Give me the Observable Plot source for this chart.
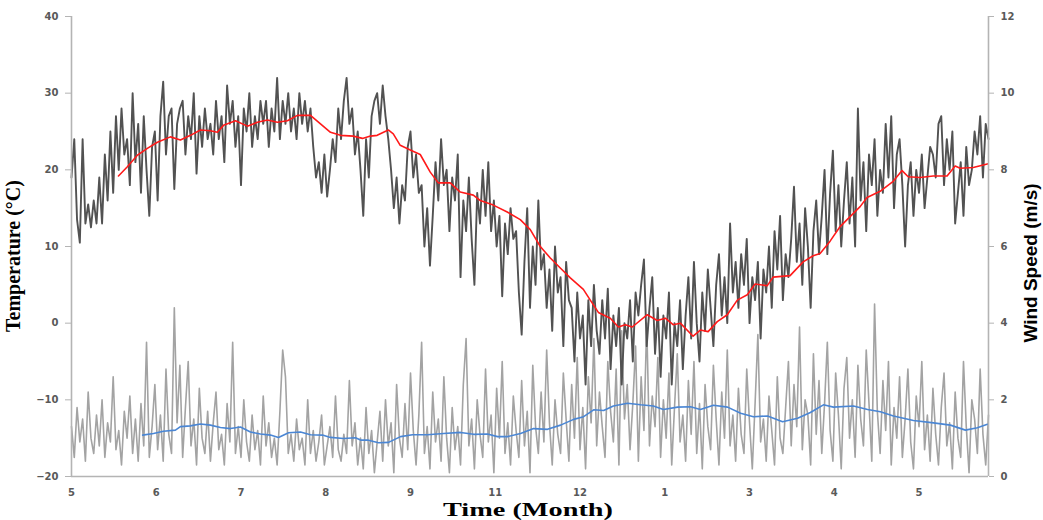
<!DOCTYPE html>
<html>
<head>
<meta charset="utf-8">
<script src="https://cdn.jsdelivr.net/npm/d3@7"></script>
<script src="https://cdn.jsdelivr.net/npm/@observablehq/plot@0.6"></script>
<style>
  body { margin: 0; background: #fff; }
  #chart { width: 1043px; height: 520px; }
</style>
</head>
<body>
<div id="chart"></div>
<script>
// Month labels along the time axis (one tick per ~30.5 days)
const monthLabels = ["5", "6", "7", "8", "9", "11", "12", "1", "3", "4", "5"];
const daysPerTick = 30.5;
const lastDay = 330;

// Daily air temperature (°C)
const dailyTemp = [
  19, 24, 13.5, 10.5, 24, 13, 15.5, 12.5, 16, 13,
  19, 13, 22, 16, 25, 17, 27, 20, 28, 22,
  24, 18, 30, 21, 26, 17, 27, 20, 14, 23,
  25, 16, 27, 31.5, 22, 27, 28, 17.5, 26, 28,
  29, 22, 27, 24, 30, 19.5, 27, 23, 28, 24,
  26, 22, 29, 24, 27, 21, 31, 26, 29, 23,
  27, 18, 28, 25, 30, 23, 27, 24, 29, 26,
  29, 23, 28, 25, 32, 24, 29, 26, 30, 25,
  28, 24, 30, 26, 29, 25, 28, 23, 19, 21,
  17, 22, 16.5, 20, 24, 21, 28, 24, 29, 32,
  26, 28, 22, 25, 20, 14, 24, 19, 27, 29,
  30, 26, 31, 27, 24, 20, 15, 19, 13, 18,
  16, 23, 25, 19, 22, 17, 18, 10, 15, 7.5,
  14, 21, 16, 24, 18, 20, 12, 19, 16, 22,
  6, 16, 12, 19, 11, 5, 17, 13, 20, 14,
  21, 12, 16, 10, 14, 3.5, 13, 9, 15, 11,
  12, 4, -1.5, 8, 15, 2, 10, 5, 16, 7,
  9, 2, 7, -1, 10, 4, 6, -3, 8, 3,
  2, -5, 4, -2, 1, -8, 3, -3, 5, -1,
  -4, 3, -2, 4.5, -6, 1, -3, 2, -8, 0,
  -2, 3, -5, 4, 1, 5, 8.3, -3, 2, 6,
  -4, 2, -7, 1, -2, 4, -8, 0, -3, 3,
  -6, 1, 6, -2, 8, 0, -5, 4, -1, 7,
  2, -3, 5, 9, 1, 6, 0, 13, 4, 8,
  2, 9, 5, 11, 0, 6, 3, 8, -2, 7,
  4, 10, 2, 12, 7, 14, 3, 9, 6, 11,
  17.8, 8, 13, 5, 15, 10, 2, 12, 16, 9,
  14, 20, 9, 17, 22.5, 12, 18, 10, 16, 21,
  13, 19, 10, 28, 16, 21, 12, 22, 18, 24,
  14, 20, 17, 26, 19, 27, 15, 22, 24, 18,
  10, 18, 21, 14, 20, 17, 22, 15, 19, 23,
  22, 19, 26, 27, 18, 24, 20, 25, 13, 17,
  21, 14, 23, 18, 20, 25, 22, 27, 19, 26,
  24
];

// Daily wind speed (m/s)
const dailyWind = [
  1.3, 0.5, 1.8, 0.9, 1.5, 0.4, 2.2, 1.0, 0.6, 1.6,
  0.8, 2.0, 0.5, 1.4, 0.9, 2.6, 0.7, 1.2, 0.3, 1.7,
  1.0, 2.1, 0.6, 1.5, 0.4, 1.9, 0.8, 3.5, 0.5, 1.3,
  2.4, 0.7, 1.6, 0.4, 2.8, 1.1, 0.6, 4.4, 1.4, 2.9,
  0.5, 1.8, 3.0, 0.8, 1.5, 0.3, 2.3, 1.0, 0.6, 1.7,
  0.4, 1.4, 2.2, 0.7, 1.1, 0.3, 1.9, 0.9, 3.5, 0.6,
  1.3, 0.5, 2.0, 0.9, 0.4, 1.6, 0.7, 1.2, 0.3, 2.1,
  0.8, 1.4, 0.5, 1.0, 0.3, 1.7, 3.3, 2.6, 0.6, 1.1,
  0.4, 1.5, 0.7, 1.0, 0.3, 2.0, 0.6, 1.2, 0.4, 0.9,
  1.6, 0.3, 0.8, 1.3, 0.5, 2.1, 0.7, 0.4, 1.1, 0.6,
  2.5, 0.8, 1.4, 0.3, 1.0, 0.2, 1.8, 0.6, 1.2, 0.1,
  0.9, 1.7, 0.4, 2.0, 0.8, 1.4, 0.1, 2.4, 1.0, 0.5,
  1.9, 0.7, 2.7, 1.2, 0.3, 1.6, 3.5, 0.6, 1.3, 0.2,
  2.2, 0.9, 1.5, 0.4, 2.6, 1.0, 0.1, 1.8, 0.7, 1.3,
  0.3, 2.4, 3.6, 0.8, 1.5, 0.2, 2.0, 1.1, 0.5, 2.8,
  0.9, 1.6, 0.1, 2.3, 1.0, 3.0, 0.6, 1.4, 0.3, 2.1,
  1.2, 0.5, 2.5, 0.8, 1.7, 0.1, 2.9, 1.3, 0.6, 2.2,
  0.9, 3.3, 1.4, 0.3, 2.0, 1.1, 0.6, 2.7, 1.5, 0.4,
  2.4, 1.0, 3.1, 0.7, 1.8, 0.2, 2.6, 1.4, 3.6, 0.8,
  2.2, 1.3, 0.5, 3.0, 1.7, 0.9, 2.8, 0.3, 3.8, 1.5,
  2.4, 0.7, 1.9, 3.4, 0.4, 2.6, 1.2, 4.0, 0.8, 2.1,
  1.3, 3.1, 0.5, 2.0, 1.0, 2.7, 0.3, 1.8, 3.2, 0.9,
  1.6, 0.4, 2.5, 1.1, 3.0, 0.6, 1.9, 0.2, 2.4, 1.3,
  0.7, 2.9, 1.5, 0.3, 2.2, 1.0, 3.3, 0.8, 1.6, 0.4,
  2.3, 1.1, 0.6, 2.8, 1.4, 0.2, 1.9, 3.7, 0.9, 1.5,
  0.4, 2.1, 1.2, 0.3, 2.6, 1.0, 0.6, 1.8, 3.0, 0.8,
  2.4, 1.3, 3.9, 0.7, 2.0, 1.6, 0.3, 3.2, 1.1, 2.5,
  0.6, 1.9, 3.5, 1.2, 0.4, 2.7, 1.6, 0.2, 2.3, 3.1,
  1.0, 2.0, 0.5, 2.9, 1.5, 0.8, 3.3, 1.9, 0.4, 4.5,
  1.7, 0.6, 2.5, 1.2, 3.0, 0.3, 1.8, 1.0, 2.6, 0.5,
  1.5, 2.8, 0.9, 0.2, 2.1, 1.3, 3.0, 0.7, 1.6, 0.4,
  2.3, 1.1, 0.3, 1.8, 2.7, 0.8, 1.4, 0.2, 2.2, 1.0,
  0.5, 3.0, 1.3, 0.1, 2.0, 1.5, 0.6, 2.8, 1.1, 0.3,
  1.6
];

// Running mean of temperature (day, °C)
const tempAvgDay = [
  16.9, 20.1, 23.7, 27.3, 30.9, 35.6, 39.2, 42.8, 46.4, 50,
  52.5, 54.7, 59, 63.3, 66.9, 70.5, 74.1, 77.7, 81.3, 86,
  89.6, 93.2, 96.8, 101.4, 104.7, 107.6, 110, 114, 115.8, 118.3,
  121.9, 125.5, 129.1, 132, 136.3, 139.9, 144.6, 147.1, 151.8, 156.8,
  161.5, 165.1, 168.7, 172.3, 175.9, 179.5, 184.2, 186.7, 189.6, 193.9,
  196.8, 199.3, 201.8, 207.2, 210.8, 213.7, 216.5, 219.1, 223.7, 226.3,
  229.1, 232.4, 236, 239.6, 243.2, 246, 250.4, 252.5, 258.6, 263.3,
  266.9, 269.4, 273, 276.6, 280.2, 283.8, 286.3, 291, 295.7, 298.9,
  301.1, 305.4, 310.1, 315.1, 318, 319.8, 324.5, 329.9
];
const tempAvg = [
  19.2, 20.4, 21.9, 22.8, 23.6, 24.3, 23.9, 24.5, 25.2, 25.1,
  24.9, 25.8, 26.4, 25.7, 26.2, 26.5, 26.2, 26.4, 27.1, 27.1,
  26, 24.9, 24.5, 24.4, 24.1, 24.4, 24.5, 25.2, 24.7, 23.2,
  22.6, 22, 19.7, 18.3, 18.3, 17.1, 16.7, 16, 15.4, 14.5,
  13.5, 12.2, 10, 8.5, 7.2, 5.9, 4.4, 3, 1.4, 0.65,
  -0.5, -0.2, -0.5, 1.1, 0.35, 0.65, -0.2, 0, -1.7, -0.9,
  -1.1, 0.2, 1.1, 3, 3.7, 5.1, 4.9, 6, 6.2, 8,
  8.8, 9.1, 10.7, 12.6, 13.9, 15.2, 16.4, 17.2, 18.5, 19.9,
  19.1, 19, 19.2, 19.2, 20.5, 20.2, 20.3, 20.8
];

// Running mean of wind speed (day, m/s)
const windAvgDay = [
  25.6, 29.5, 33.1, 37.4, 39.2, 42.8, 46.4, 50, 53.6, 57.2,
  60.8, 64.4, 68, 71.6, 74.5, 78.1, 82.4, 86, 90.3, 93.2,
  97.9, 102.2, 104, 106.5, 110.5, 114.1, 118.4, 122.7, 128.1, 133.9,
  140, 144.7, 149.7, 153.3, 156.9, 161.6, 166.3, 171.3, 176, 180.7,
  184.3, 187.9, 191.5, 195, 200.1, 204.8, 209.4, 213, 218.1, 222.8,
  226.3, 231, 236.1, 240.8, 245.4, 250.5, 255.9, 261.3, 265.9, 270.6,
  274.2, 281.4, 286.5, 291.1, 295.8, 303, 310.2, 316.3, 321.7, 326,
  329.6
];
const windAvg = [
  1.08, 1.12, 1.18, 1.21, 1.30, 1.32, 1.37, 1.34, 1.28, 1.25,
  1.29, 1.16, 1.11, 1.08, 1.02, 1.14, 1.16, 1.09, 1.08, 1.02,
  0.99, 1.01, 0.95, 0.95, 0.88, 0.89, 1.04, 1.09, 1.09, 1.12,
  1.15, 1.10, 1.11, 1.04, 1.04, 1.12, 1.25, 1.23, 1.34, 1.49,
  1.56, 1.74, 1.72, 1.84, 1.91, 1.87, 1.84, 1.75, 1.81, 1.82,
  1.75, 1.86, 1.81, 1.65, 1.56, 1.58, 1.43, 1.52, 1.67, 1.87,
  1.81, 1.84, 1.75, 1.69, 1.58, 1.46, 1.40, 1.34, 1.21, 1.27,
  1.36
];

// Wind speed (0–12 m/s) shares the temperature frame (−20–40 °C)
const windToY = w => w * 5 - 20;
const yTicks = d3.range(-20, 41, 10);

const axisGray = "#b4b4b4";
const labelGray = "#595959";

const chart = Plot.plot({
  width: 1043,
  height: 520,
  marginLeft: 71,
  marginRight: 55,
  marginTop: 16,
  marginBottom: 44,
  style: {fontFamily: "DejaVu Sans", fontSize: "10px", fontWeight: "bold", background: "#fff"},
  x: {domain: [0, lastDay]},
  y: {domain: [-20, 40]},
  marks: [
    Plot.lineY(dailyWind, {x: (d, i) => i, y: d => windToY(d), stroke: "#a3a3a3", strokeWidth: 1.6}),
    Plot.lineY(dailyTemp, {x: (d, i) => i, y: d => d, stroke: "#525252", strokeWidth: 1.9}),
    Plot.line(windAvgDay, {x: d => d, y: (d, i) => windToY(windAvg[i]), stroke: "#4a86d4", strokeWidth: 1.6}),
    Plot.line(tempAvgDay, {x: d => d, y: (d, i) => tempAvg[i], stroke: "#ff1a1a", strokeWidth: 1.6}),
    Plot.ruleX([0, lastDay], {stroke: axisGray, strokeWidth: 1.6}),
    Plot.ruleY([-20], {stroke: axisGray, strokeWidth: 1.6}),
    Plot.axisY({anchor: "left", ticks: yTicks, tickSize: 6, tickPadding: 7, label: null,
      stroke: axisGray, fill: labelGray}),
    Plot.axisY({anchor: "right", ticks: yTicks, tickSize: 5, tickPadding: 7, label: null,
      tickFormat: d => (d + 20) / 5, stroke: axisGray, fill: labelGray}),
    Plot.axisX({ticks: monthLabels.map((_, i) => i * daysPerTick), tickSize: 0, tickPadding: 12,
      label: null, tickFormat: d => monthLabels[Math.round(d / daysPerTick)], fill: labelGray})
  ]
});

document.getElementById("chart").append(chart);

// Axis titles
const svg = d3.select(chart);
svg.append("text")
  .attr("transform", "translate(20,256) rotate(-90)")
  .attr("text-anchor", "middle")
  .style("font-family", "'Liberation Serif', serif")
  .style("font-size", "20px")
  .style("font-weight", "bold")
  .attr("fill", "#000")
  .text("Temperature (°C)");
svg.append("text")
  .attr("transform", "translate(1037,263) rotate(-90)")
  .attr("text-anchor", "middle")
  .style("font-family", "'Liberation Sans', sans-serif")
  .style("font-size", "19px")
  .style("font-weight", "bold")
  .attr("fill", "#000")
  .text("Wind Speed (m/s)");
svg.append("text")
  .attr("x", 528)
  .attr("y", 516)
  .attr("text-anchor", "middle")
  .attr("textLength", 170)
  .attr("lengthAdjust", "spacingAndGlyphs")
  .style("font-family", "'Liberation Serif', serif")
  .style("font-size", "18px")
  .style("font-weight", "bold")
  .attr("fill", "#000")
  .text("Time (Month)");
</script>
</body>
</html>
